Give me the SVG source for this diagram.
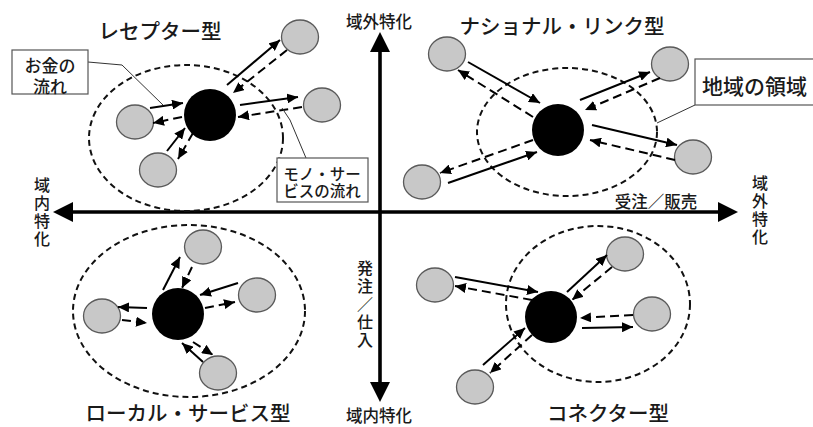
<svg xmlns="http://www.w3.org/2000/svg" width="813" height="427" viewBox="0 0 813 427">
  <style>
    .t { font-family: "Noto Sans CJK JP", "Noto Sans", sans-serif; fill: #1a1a1a; font-weight: 500; }
    .title { font-size: 20.5px; text-anchor: middle; }
    .ax { font-size: 16.5px; text-anchor: middle; }
    .vt { font-size: 16px; writing-mode: vertical-rl; text-orientation: upright; letter-spacing: 2px; }
    .note { text-anchor: middle; }
    .region { fill: none; stroke: #111; stroke-width: 2; stroke-dasharray: 6 4; }
    .hub { fill: #000; }
    .peer { fill: #c8c8c8; stroke: #5a5a5a; stroke-width: 1.3; }
    .money { fill: none; stroke: #000; stroke-width: 2; marker-end: url(#head); }
    .goods { fill: none; stroke: #000; stroke-width: 2; stroke-dasharray: 9 5; marker-end: url(#head); }
    .box { fill: #fff; stroke: #555; stroke-width: 1.2; }
    .lead { fill: none; stroke: #333; stroke-width: 1; }
    .axis { stroke: #000; stroke-width: 3.6; }
  </style>
  <defs>
    <marker id="head" markerUnits="userSpaceOnUse" markerWidth="11" markerHeight="10" refX="11" refY="5" orient="auto">
      <path d="M0,0 L11,5 L0,10 Z" fill="#000"/>
    </marker>
  </defs>
  <rect width="813" height="427" fill="#fff"/>

  <!-- axes -->
  <g id="axes">
    <line class="axis" x1="72" y1="212" x2="719" y2="212"/>
    <polygon points="53,212 73,202 73,222" fill="#000"/>
    <polygon points="738,212 718,202 718,222" fill="#000"/>
    <line class="axis" x1="380" y1="51" x2="380" y2="383"/>
    <polygon points="380,32 370,52 390,52" fill="#000"/>
    <polygon points="380,402 370,382 390,382" fill="#000"/>
    <text class="t ax" x="379" y="28">域外特化</text>
    <text class="t ax" x="379" y="422">域内特化</text>
    <text class="t ax" x="656" y="208">受注／販売</text>
    <text class="t vt" x="42" y="177">域内特化</text>
    <text class="t vt" x="760" y="175">域外特化</text>
    <text class="t vt" x="365" y="260">発注／仕入</text>
  </g>

  <!-- quadrant: receptor type -->
  <g id="receptor">
    <ellipse class="region" cx="186" cy="138" rx="97" ry="73"/>
    <circle class="hub" cx="210" cy="115" r="26"/>
    <ellipse class="peer" cx="300" cy="37" rx="18.5" ry="17"/>
    <ellipse class="peer" cx="322" cy="105" rx="18.5" ry="17"/>
    <ellipse class="peer" cx="135" cy="122" rx="18.5" ry="17"/>
    <ellipse class="peer" cx="158" cy="170" rx="18.5" ry="17"/>
    <text class="t title" x="160" y="39">レセプター型</text>
  </g>

  <!-- quadrant: national link type -->
  <g id="national-link">
    <ellipse class="region" cx="567" cy="132" rx="90" ry="64"/>
    <circle class="hub" cx="558" cy="130" r="26"/>
    <ellipse class="peer" cx="447" cy="54" rx="18.5" ry="17"/>
    <ellipse class="peer" cx="670" cy="64" rx="18.5" ry="17"/>
    <ellipse class="peer" cx="693" cy="157" rx="18.5" ry="17"/>
    <ellipse class="peer" cx="422" cy="182" rx="18.5" ry="17"/>
    <text class="t title" x="562" y="34">ナショナル・リンク型</text>
  </g>

  <!-- quadrant: local service type -->
  <g id="local-service">
    <ellipse class="region" cx="189" cy="311" rx="116" ry="86"/>
    <circle class="hub" cx="178" cy="314" r="26"/>
    <ellipse class="peer" cx="203" cy="247" rx="18.5" ry="17"/>
    <ellipse class="peer" cx="257" cy="295" rx="18.5" ry="17"/>
    <ellipse class="peer" cx="102" cy="316" rx="18.5" ry="17"/>
    <ellipse class="peer" cx="218" cy="373" rx="18.5" ry="17"/>
    <text class="t title" x="188" y="420.5">ローカル・サービス型</text>
  </g>

  <!-- quadrant: connector type -->
  <g id="connector">
    <ellipse class="region" cx="598" cy="304" rx="92" ry="78"/>
    <circle class="hub" cx="551" cy="317" r="26"/>
    <ellipse class="peer" cx="625" cy="254" rx="18.5" ry="17"/>
    <ellipse class="peer" cx="652" cy="314" rx="18.5" ry="17"/>
    <ellipse class="peer" cx="435" cy="285" rx="18.5" ry="17"/>
    <ellipse class="peer" cx="475" cy="387" rx="18.5" ry="17"/>
    <text class="t title" x="608" y="420.5">コネクター型</text>
  </g>

  <!-- money (solid) and goods/services (dashed) flows -->
  <g id="connectors">
    <line class="money" x1="227" y1="85" x2="280" y2="40"/>
    <line class="money" x1="240" y1="105" x2="298" y2="97"/>
    <line class="money" x1="150" y1="108" x2="183" y2="103"/>
    <line class="money" x1="167" y1="151" x2="185" y2="128"/>
    <line class="goods" x1="287" y1="50" x2="233" y2="93"/>
    <line class="goods" x1="302" y1="107" x2="238" y2="117"/>
    <line class="goods" x1="182" y1="117" x2="153" y2="123"/>
    <line class="goods" x1="193" y1="133" x2="178" y2="159"/>

    <line class="money" x1="468" y1="62" x2="540" y2="103"/>
    <line class="money" x1="580" y1="100" x2="650" y2="72"/>
    <line class="money" x1="592" y1="125" x2="677" y2="145"/>
    <line class="money" x1="448" y1="183" x2="537" y2="152"/>
    <line class="goods" x1="533" y1="117" x2="458" y2="70"/>
    <line class="goods" x1="660" y1="78" x2="585" y2="110"/>
    <line class="goods" x1="675" y1="160" x2="590" y2="140"/>
    <line class="goods" x1="533" y1="140" x2="440" y2="173"/>

    <line class="money" x1="163" y1="290" x2="180" y2="257"/>
    <line class="money" x1="238" y1="283" x2="200" y2="295"/>
    <line class="money" x1="147" y1="308" x2="118" y2="307"/>
    <line class="money" x1="203" y1="362" x2="182" y2="343"/>
    <line class="goods" x1="192" y1="267" x2="182" y2="288"/>
    <line class="goods" x1="205" y1="308" x2="235" y2="302"/>
    <line class="goods" x1="122" y1="320" x2="147" y2="323"/>
    <line class="goods" x1="193" y1="342" x2="213" y2="355"/>

    <line class="money" x1="455" y1="277" x2="538" y2="292"/>
    <line class="money" x1="567" y1="292" x2="607" y2="255"/>
    <line class="money" x1="582" y1="328" x2="633" y2="327"/>
    <line class="money" x1="483" y1="365" x2="525" y2="328"/>
    <line class="goods" x1="532" y1="300" x2="455" y2="286"/>
    <line class="goods" x1="612" y1="267" x2="572" y2="300"/>
    <line class="goods" x1="633" y1="315" x2="580" y2="318"/>
    <line class="goods" x1="532" y1="335" x2="490" y2="373"/>
  </g>

  <!-- legend callouts -->
  <g id="callout-money">
    <path class="lead" d="M88,62 L122,65 L163,105"/>
    <rect class="box" x="12" y="50" width="76" height="44"/>
    <text class="t note" style="font-size:17px"><tspan x="50" y="72">お金の</tspan><tspan x="50" y="92.5">流れ</tspan></text>
  </g>
  <g id="callout-goods">
    <path class="lead" d="M306,158 L290,120 L282,108"/>
    <rect class="box" x="277" y="158" width="91" height="44"/>
    <text class="t note" style="font-size:15.5px"><tspan x="322" y="180">モノ・サー</tspan><tspan x="322" y="197">ビスの流れ</tspan></text>
  </g>
  <g id="callout-region">
    <path class="lead" d="M695,105 L657,123"/>
    <rect class="box" x="695" y="59" width="130" height="46"/>
    <text class="t" x="702" y="94" style="font-size:21px">地域の領域</text>
  </g>
</svg>
